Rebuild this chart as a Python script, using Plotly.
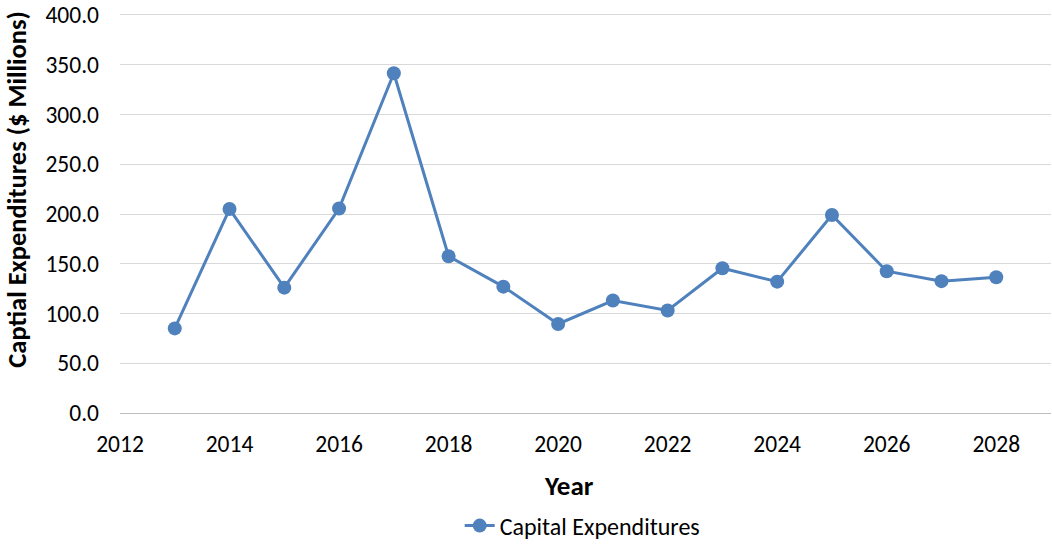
import plotly.graph_objects as go

years = [2013, 2014, 2015, 2016, 2017, 2018, 2019, 2020, 2021, 2022, 2023, 2024, 2025, 2026, 2027, 2028]
capex = [85.0, 205.0, 126.0, 205.5, 341.5, 157.5, 127.0, 89.5, 113.0, 103.0, 145.5, 132.0, 199.0, 142.5, 132.5, 136.5]
x_ticks = [2012, 2014, 2016, 2018, 2020, 2022, 2024, 2026, 2028]
y_ticks = [0, 50, 100, 150, 200, 250, 300, 350, 400]

FONT = "Carlito, Calibri, Lato, sans-serif"
BLUE = "#4F81BD"

fig = go.Figure()
fig.add_trace(go.Scatter(
    x=years, y=capex, mode="lines+markers", name="Capital Expenditures",
    line=dict(color=BLUE, width=3),
    marker=dict(color=BLUE, size=14),
))

fig.update_layout(
    width=1052, height=544,
    margin=dict(l=120, r=1, t=13, b=131, autoexpand=False),
    paper_bgcolor="white", plot_bgcolor="white",
    font=dict(family=FONT, size=23.5, color="#000000"),
    showlegend=True,
    legend=dict(orientation="h", x=0.497, xanchor="center",
                yref="container", y=1 - 526 / 544, yanchor="middle",
                font=dict(family=FONT, size=24, color="#000000")),
    xaxis=dict(
        range=[2012, 2029], tickvals=x_ticks, ticktext=[str(v) for v in x_ticks],
        showgrid=False, zeroline=False, showline=False,
        ticks="", ticklabelstandoff=14,
    ),
    yaxis=dict(
        range=[0, 402], tickvals=y_ticks, ticktext=[f"{v:.1f}" for v in y_ticks],
        showgrid=True, gridcolor="#D9D9D9", gridwidth=1.3,
        zeroline=True, zerolinecolor="#BFBFBF", zerolinewidth=1.3,
        showline=False, ticks="", ticklabelstandoff=20,
    ),
    annotations=[
        dict(text="<b>Year</b>", xref="paper", yref="paper", x=0.482, y=-0.181,
             xanchor="center", yanchor="middle", showarrow=False,
             font=dict(family=FONT, size=27, color="#000000")),
        dict(text="<b>Captial Expenditures ($ Millions)</b>", xref="paper", yref="paper",
             x=-0.111, y=0.56, xanchor="center", yanchor="middle", textangle=-90,
             showarrow=False, font=dict(family=FONT, size=26.5, color="#000000")),
    ],
)

fig.write_html(
    "out.html",
    config={"displayModeBar": False},
    post_script="document.body.style.margin='0';document.body.style.overflow='hidden';",
)
